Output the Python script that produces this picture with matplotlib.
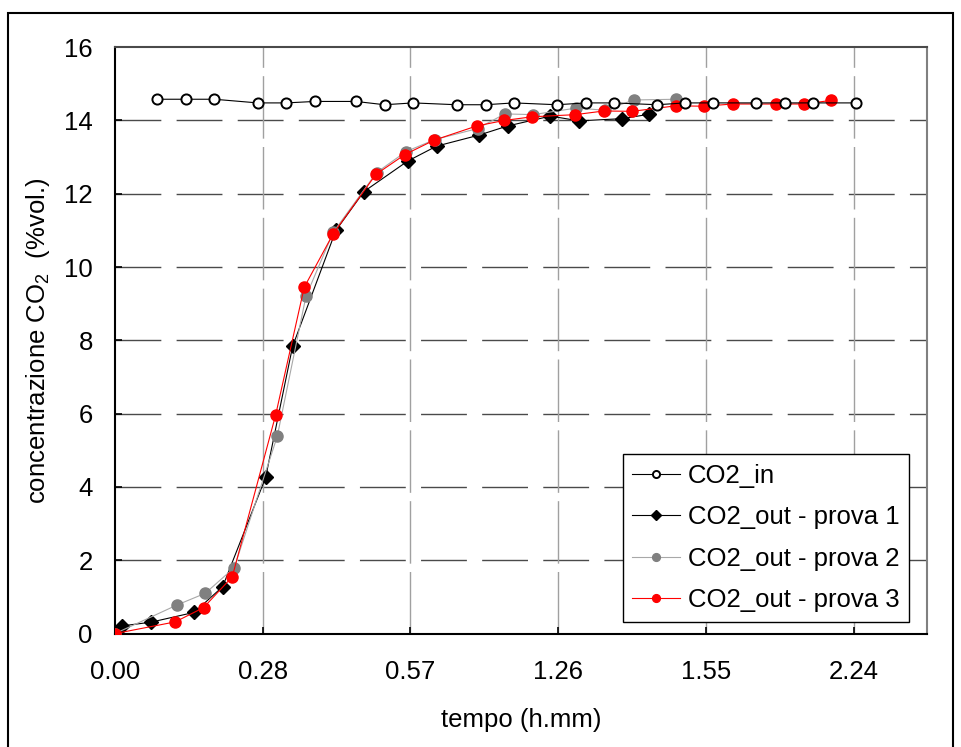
import matplotlib
matplotlib.use("Agg")
import matplotlib.pyplot as plt
from matplotlib.patches import Rectangle

# time in minutes, concentration in %vol
co2_in_t = [8.24, 13.83, 19.35, 27.8, 33.4, 38.97, 46.96, 52.55, 58.13, 66.64, 72.23,
            77.75, 86.19, 91.78, 97.29, 105.75, 111.07, 116.58, 124.9, 130.55, 136.07, 144.52]
co2_in_v = [14.58, 14.58, 14.58, 14.48, 14.48, 14.52, 14.52, 14.43, 14.48, 14.43, 14.43,
            14.48, 14.43, 14.48, 14.48, 14.43, 14.48, 14.48, 14.48, 14.48, 14.48, 14.48]

prova1_t = [0, 1.36, 6.96, 15.45, 20.99, 29.36, 34.63, 43.06, 48.52, 57.03, 62.68,
            70.93, 76.52, 84.9, 90.47, 98.85, 104.1]
prova1_v = [0, 0.21, 0.31, 0.58, 1.28, 4.26, 7.84, 11.0, 12.06, 12.89, 13.30,
            13.60, 13.85, 14.12, 13.99, 14.05, 14.17]

prova2_t = [0, 12.08, 17.6, 23.25, 31.63, 37.22, 42.54, 51.0, 56.7, 62.35, 70.67,
            75.99, 81.51, 89.96, 95.48, 101.13, 109.45]
prova2_v = [0, 0.78, 1.10, 1.80, 5.38, 9.2, 10.95, 12.58, 13.15, 13.48, 13.78,
            14.18, 14.16, 14.34, 14.28, 14.56, 14.58]

prova3_t = [0, 11.75, 17.28, 22.86, 31.31, 36.89, 42.54, 50.86, 56.51, 62.16, 70.48,
            75.8, 81.26, 89.74, 95.32, 100.84, 109.31, 114.83, 120.42, 128.8, 134.35, 139.65]
prova3_v = [0, 0.32, 0.71, 1.55, 5.96, 9.45, 10.91, 12.53, 13.07, 13.46, 13.85,
            14.0, 14.1, 14.16, 14.26, 14.25, 14.40, 14.39, 14.45, 14.45, 14.45, 14.55]

xtick_pos = [0, 28.8, 57.6, 86.4, 115.2, 144.0]
xtick_labels = ["0.00", "0.28", "0.57", "1.26", "1.55", "2.24"]
ytick_pos = [0, 2, 4, 6, 8, 10, 12, 14, 16]

plt.rcParams.update({
    "font.family": "Liberation Sans",
    "mathtext.fontset": "custom",
    "mathtext.rm": "Liberation Sans",
    "mathtext.it": "Liberation Sans",
    "lines.scale_dashes": False,
})

fig = plt.figure(figsize=(9.61, 7.47), dpi=100)
ax = fig.add_axes([115 / 961, 1 - 633.6 / 747, (927 - 115) / 961, (633.6 - 47.2) / 747])

ax.plot(prova1_t, prova1_v, color="black", lw=0.8, marker="D", ms=6.8,
        mfc="black", mec="black", label="CO2_out - prova 1", zorder=3)
ax.plot(prova2_t, prova2_v, color="#a8a8a8", lw=0.8, marker="o", ms=8,
        mfc="#808080", mec="#808080", label="CO2_out - prova 2", zorder=4)
ax.plot(prova3_t, prova3_v, color="red", lw=0.8, marker="o", ms=8,
        mfc="red", mec="red", label="CO2_out - prova 3", zorder=5)
ax.plot(co2_in_t, co2_in_v, color="black", lw=0.8, marker="o", ms=7.3,
        mfc="white", mec="black", mew=1.4, label="CO2_in", zorder=6)

ax.set_xlim(0, 158.3)
ax.set_ylim(0, 16)
ax.set_xticks(xtick_pos)
ax.set_xticklabels(xtick_labels)
ax.set_yticks(ytick_pos)

for y in ytick_pos[1:-1]:
    ax.axhline(y, color="#4a4a4a", lw=1.0, ls=(0, (33, 11)), zorder=1)
for x in xtick_pos[1:]:
    ax.axvline(x, color="#a0a0a0", lw=1.0, ls=(0, (45, 6)), zorder=1)

ax.tick_params(axis="both", direction="in", length=5, width=1.2, labelsize=18.5)
ax.tick_params(axis="y", pad=16)
ax.tick_params(axis="x", pad=19)

ax.spines["left"].set_linewidth(1.5)
ax.spines["bottom"].set_linewidth(1.5)
ax.spines["top"].set_color("#4a4a4a")
ax.spines["top"].set_linewidth(1.5)
ax.spines["right"].set_color("#808080")
ax.spines["right"].set_linewidth(1.5)

ax.set_xlabel("tempo (h.mm)", fontsize=18.5, labelpad=17)
ax.set_ylabel("concentrazione CO$_2$  (%vol.)", fontsize=18.5, labelpad=9)

handles, labels = ax.get_legend_handles_labels()
order = [3, 0, 1, 2]
leg = ax.legend([handles[i] for i in order], [labels[i] for i in order],
                loc="upper left", bbox_to_anchor=(622.7 / 961, 1 - 454 / 747),
                bbox_transform=fig.transFigure, fontsize=18.5, frameon=True,
                fancybox=False, shadow=False, framealpha=1, edgecolor="black",
                handlelength=1.85, handletextpad=0.3, borderpad=0.38,
                borderaxespad=0, labelspacing=0.68, markerscale=0.7)
leg.get_frame().set_linewidth(1.0)
leg.set_zorder(10)

fig.patches.append(Rectangle((8 / 961, -0.1), (953 - 8) / 961, 1.1 - 13 / 747,
                             transform=fig.transFigure, fill=False,
                             edgecolor="black", lw=1.5))

fig.savefig("out.png", dpi=100)
